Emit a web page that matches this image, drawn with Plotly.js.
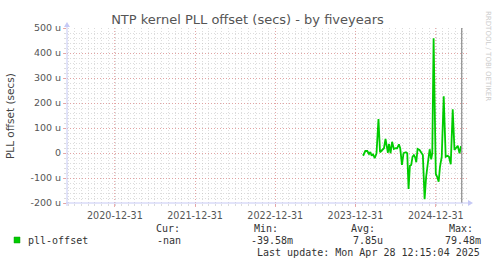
<!DOCTYPE html>
<html>
<head>
<meta charset="utf-8">
<script src="https://cdn.plot.ly/plotly-3.0.1.min.js"></script>
<style>
html,body{margin:0;padding:0;background:#fff;}
#chart{width:497px;height:264px;}
</style>
</head>
<body>
<div id="chart"></div>
<script>
// ---- data (offset in microseconds) ----
const dates = [
 '2024-02-04','2024-02-14','2024-02-23','2024-03-02','2024-03-08','2024-03-14','2024-03-20','2024-03-28',
 '2024-04-05','2024-04-14','2024-04-21','2024-04-29','2024-05-09','2024-05-16','2024-05-22','2024-05-27',
 '2024-06-01','2024-06-08','2024-06-15','2024-06-23','2024-07-01','2024-07-08','2024-07-16','2024-07-22',
 '2024-07-30','2024-08-06','2024-08-17','2024-08-23','2024-08-29','2024-09-04','2024-09-10','2024-09-16',
 '2024-09-22','2024-09-28','2024-10-03','2024-10-09','2024-10-18','2024-10-26','2024-11-02','2024-11-10',
 '2024-11-17','2024-11-25','2024-12-03','2024-12-10','2024-12-15','2024-12-21','2024-12-31','2025-01-07',
 '2025-01-13','2025-01-19','2025-01-27','2025-02-05','2025-02-14','2025-02-23','2025-03-01','2025-03-09',
 '2025-03-18','2025-03-26','2025-04-02','2025-04-10','2025-04-18','2025-04-24','2025-04-28'
];
const offsetU = [
 -11, 8, 8, -4, 4, -11, -4, -21,
 -1, 136, 3, 12, 19, 56, 32, 1,
 36, -1, 45, 16, 19, 19, 35, 19,
 -48, -1, 3, -1, -144, -51, -48, -15,
 -8, -17, -37, 16, 12, -1, -8, -185,
 -95, -39, 15, -25, -1, 459, -84, -97,
 -115, -55, -15, 227, -15, -11, -15, -45,
 175, 12, 19, 29, -1, 23, 21
];
const xTickVals = ['2020-12-31','2021-12-31','2022-12-31','2023-12-31','2024-12-31'];
const xTickText = ['2020-12-31','2021-12-31','2022-12-31','2023-12-31','2024-12-31'];
const yTickVals = [-200,-100,0,100,200,300,400,500];
const yTickText = ['-200 u','-100 u','0','100 u','200 u','300 u','400 u','500 u'];
const xRange = ['2020-05-27','2025-05-22'];
const yRange = [-200, 500];
const nowDate = '2025-04-28';
const seriesName = 'pll-offset';
const statHeads = ['Cur:','Min:','Avg:','Max:'];
const statVals = ['-nan','-39.58m','7.85u','79.48m'];
const lastUpdate = 'Last update: Mon Apr 28 12:15:04 2025';
const chartTitle = 'NTP kernel PLL offset (secs) - by fiveyears';
const yTitle = 'PLL offset (secs)';
const watermark = 'RRDTOOL / TOBI OETIKER';

// ---- geometry helpers (pixel -> paper) ----
const L = 67, R = 30, T = 28, B = 61, W = 497, H = 264;
const PW = W - L - R, PH = H - T - B;
const px = x => (x - L) / PW;
const py = y => (H - B - y) / PH;

const mono = 'DejaVu Sans Mono, monospace';
const sans = 'DejaVu Sans, sans-serif';
const majorGrid = 'rgba(228,140,140,0.7)';
const minorGrid = 'rgba(185,185,185,0.5)';
const axisCol = '#c6c9f5';

const trace = {
  x: dates, y: offsetU, type: 'scatter', mode: 'lines',
  line: {color: '#00cc00', width: 1.8}, hoverinfo: 'skip', showlegend: false
};

const ann = [];
function txt(x, y, s, opts) {
  ann.push(Object.assign({xref:'paper', yref:'paper', x:px(x), y:py(y), text:s, showarrow:false,
    xanchor:'left', yanchor:'middle', font:{family:mono, size:10, color:'#333'}}, opts||{}));
}
txt(26, 240, seriesName);
const headX = [154, 252, 349, 447];
const valX = [183, 295, 385, 483];
statHeads.forEach((h,i)=> txt(headX[i], 228, h));
statVals.forEach((v,i)=> txt(valX[i], 240, v, {xanchor:'right'}));
txt(482, 252, lastUpdate, {xanchor:'right'});
// y title
ann.push({xref:'paper', yref:'paper', x:px(10), y:py(116), text:yTitle, showarrow:false, textangle:-90,
  xanchor:'center', yanchor:'middle', font:{family:sans, size:10.5, color:'#444'}});
// watermark
ann.push({xref:'paper', yref:'paper', x:px(488), y:py(56), text:watermark, showarrow:false, textangle:90,
  xanchor:'center', yanchor:'middle', font:{family:sans, size:7, color:'#cccccc'}});

const shapes = [
  // now line
  {type:'line', xref:'x', yref:'paper', x0:nowDate, x1:nowDate, y0:0, y1:1, line:{color:'#8a8a8a', width:1.2}},
  // x-axis line & arrow
  {type:'line', xref:'paper', yref:'paper', x0:px(66), x1:px(469), y0:py(203), y1:py(203), line:{color:axisCol, width:1}},
  {type:'path', xref:'paper', yref:'paper', path:`M ${px(468)} ${py(200)} L ${px(473)} ${py(203)} L ${px(468)} ${py(206)} Z`, fillcolor:axisCol, line:{width:0}},
  // y-axis line & arrow
  {type:'line', xref:'paper', yref:'paper', x0:px(67), x1:px(67), y0:py(206), y1:py(26), line:{color:axisCol, width:1}},
  {type:'path', xref:'paper', yref:'paper', path:`M ${px(64)} ${py(27)} L ${px(67)} ${py(22)} L ${px(70)} ${py(27)} Z`, fillcolor:axisCol, line:{width:0}},
  // legend swatch
  {type:'rect', xref:'paper', yref:'paper', x0:px(14), x1:px(20), y0:py(243), y1:py(237), fillcolor:'#00cc00', line:{color:'#119911', width:0.5}}
];

const layout = {
  width: W, height: H,
  margin: {l:L, r:R, t:T, b:B, pad:0},
  paper_bgcolor: '#ffffff', plot_bgcolor: '#ffffff',
  showlegend: false,
  title: {text: chartTitle, x: 0.498, xref:'container', xanchor:'center', y: 1 - 19/H, yref:'container', yanchor:'middle',
          font: {family: sans, size: 13, color: '#555'}},
  xaxis: {
    type:'date', range:xRange, fixedrange:true,
    tickmode:'array', tickvals:xTickVals, ticktext:xTickText,
    showgrid:true, gridcolor:majorGrid, griddash:'1px,2px', gridwidth:1,
    ticks:'outside', ticklen:3, tickcolor:majorGrid,
    tickfont:{family:sans, size:9.6, color:'#555'},
    showline:false, zeroline:false,
    minor:{dtick:'M1', tick0:'2021-01-01', showgrid:true, gridcolor:minorGrid, griddash:'1px,2px', gridwidth:1,
           ticks:'outside', ticklen:2, tickcolor:minorGrid}
  },
  yaxis: {
    range:yRange, fixedrange:true,
    tickmode:'array', tickvals:yTickVals, ticktext:yTickText,
    showgrid:true, gridcolor:majorGrid, griddash:'1px,2px', gridwidth:1,
    ticks:'outside', ticklen:3, tickcolor:majorGrid,
    tickfont:{family:sans, size:9.5, color:'#555'},
    showline:false, zeroline:false,
    minor:{dtick:20, tick0:0, showgrid:true, gridcolor:minorGrid, griddash:'1px,2px', gridwidth:1,
           ticks:'outside', ticklen:2, tickcolor:minorGrid}
  },
  annotations: ann,
  shapes: shapes
};

Plotly.newPlot('chart', [trace], layout, {staticPlot:true, displayModeBar:false});
</script>
</body>
</html>
